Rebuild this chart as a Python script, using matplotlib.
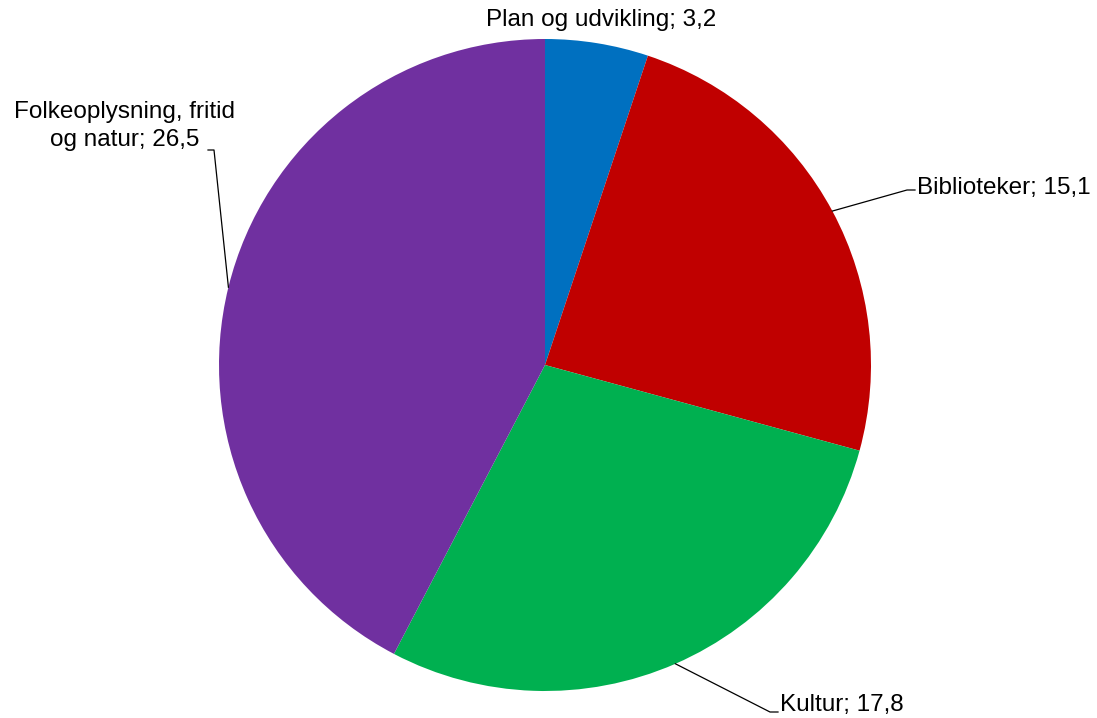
import numpy as np
import matplotlib.pyplot as plt

labels = ["Plan og udvikling", "Biblioteker", "Kultur", "Folkeoplysning, fritid\nog natur"]
values = [3.2, 15.1, 17.8, 26.5]
colors = ["#0070C0", "#C00000", "#00B050", "#7030A0"]

plt.rcParams["font.family"] = ["Liberation Sans", "DejaVu Sans"]

W, H = 1097, 718
fig = plt.figure(figsize=(W / 100, H / 100), dpi=100)
ax = fig.add_axes([0, 0, 1, 1])

cx, cy, r = 545, H - 365, 326
wedges, _ = ax.pie(values, colors=colors, startangle=90, counterclock=False,
                   center=(cx, cy), radius=r, frame=True,
                   wedgeprops=dict(linewidth=0))
ax.set_xlim(0, W)
ax.set_ylim(0, H)
ax.set_aspect("auto")
ax.axis("off")

# label placement (pixel coords, y from top): text pos, alignment, elbow, line end
layout = [
    dict(xy=(601, 20), ha="center", elbow=None),
    dict(xy=(917, 188), ha="left", elbow=[(907, 190), (915, 190)]),
    dict(xy=(780, 705), ha="left", elbow=[(770, 712), (778, 712)]),
    dict(xy=(125, 126), ha="center", elbow=[(214, 150), (208, 150)]),
]

for w, lab, val, lay in zip(wedges, labels, values, layout):
    txt = f"{lab}; {val:.1f}".replace(".", ",")
    tx, ty = lay["xy"]
    ax.text(tx, H - ty, txt, ha=lay["ha"], va="center", fontsize=17.5,
            color="black", linespacing=1.3)
    if lay["elbow"] is not None:
        mid = np.deg2rad((w.theta1 + w.theta2) / 2)
        ex, ey = cx + r * np.cos(mid), cy + r * np.sin(mid)
        xs = [ex] + [p[0] for p in lay["elbow"]]
        ys = [ey] + [H - p[1] for p in lay["elbow"]]
        ax.plot(xs, ys, color="black", linewidth=0.9)

fig.savefig("out.png", dpi=100)
